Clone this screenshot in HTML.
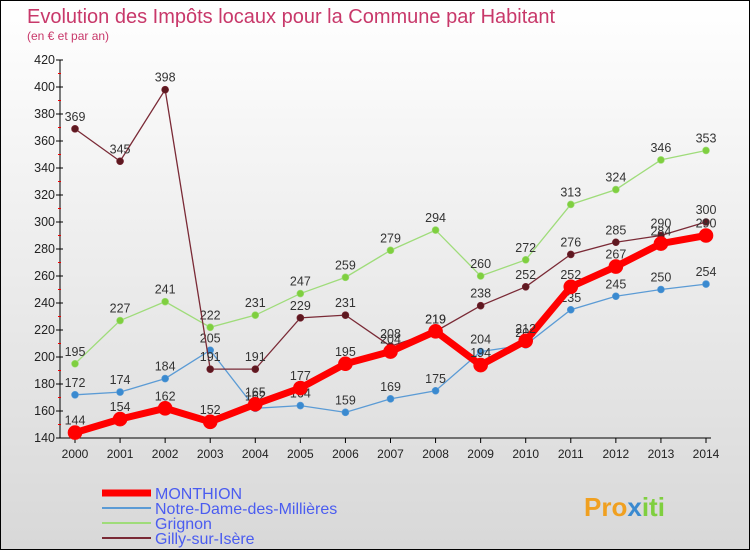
<!DOCTYPE html>
<html><head><meta charset="utf-8"><style>
body{margin:0}
#c{width:748px;height:548px;border:1px solid #000;position:relative;background:linear-gradient(#ffffff,#d8d8d8);font-family:"Liberation Sans",sans-serif;overflow:hidden}
</style></head><body>
<div id="c">
<svg id="s" width="748" height="548"></svg>
</div>
<script>
const years=[2000,2001,2002,2003,2004,2005,2006,2007,2008,2009,2010,2011,2012,2013,2014];
const yTicks=[140,160,180,200,220,240,260,280,300,320,340,360,380,400,420];
const monthion=[144,154,162,152,165,177,195,204,219,194,212,252,267,284,290];
const notreDame=[172,174,184,205,162,164,159,169,175,204,209,235,245,250,254];
const grignon=[195,227,241,222,231,247,259,279,294,260,272,313,324,346,353];
const gilly=[369,345,398,191,191,229,231,208,219,238,252,276,285,290,300];
const ns="http://www.w3.org/2000/svg";
const s=document.getElementById('s');
const X=i=>74+i*(705-74)/14;
const Y=v=>437-(v-140)*(437-59)/280;
function el(t,a,p){const e=document.createElementNS(ns,t);for(const k in a)e.setAttribute(k,a[k]);(p||s).appendChild(e);return e;}
let t=el('text',{x:26,y:22,fill:'#c8386a','font-size':20});t.textContent='Evolution des Impôts locaux pour la Commune par Habitant';

t=el('text',{x:26,y:39,fill:'#c8386a','font-size':12});t.textContent='(en € et par an)';

el('line',{x1:59,y1:59,x2:59,y2:437,stroke:'#000'});
el('line',{x1:59,y1:437,x2:710,y2:437,stroke:'#000'});
yTicks.forEach(v=>{el('line',{x1:55,x2:62,y1:Y(v),y2:Y(v),stroke:'#000'});
 if(v<420)el('line',{x1:57,x2:60,y1:Y(v+10),y2:Y(v+10),stroke:'#e00'});
 const e=el('text',{x:54,y:Y(v)+4,'text-anchor':'end','font-size':12.5,fill:'#222'});e.textContent=v;
 });
years.forEach((y,i)=>{el('line',{x1:X(i),x2:X(i),y1:437,y2:442,stroke:'#000'});
 const e=el('text',{x:X(i),y:457,'text-anchor':'middle','font-size':12,fill:'#222'});e.textContent=y;
 });
function series(d,col,dot,w,r,name){
 const g=el('g',{});
 el('polyline',{points:d.map((v,i)=>X(i)+','+Y(v)).join(' '),fill:'none',stroke:col,'stroke-width':w},g);
 d.forEach((v,i)=>{el('circle',{cx:X(i),cy:Y(v),r:r,fill:dot,stroke:col,'stroke-width':0.6},g);
  const e=el('text',{x:X(i),y:Y(v)-8,'text-anchor':'middle','font-size':12.5,fill:'#333'},g);e.textContent=v;});
}
series(notreDame,'#5b9bd5','#3a8ad0',1.3,3.5,'series-notre-dame');
series(grignon,'#9fdc7a','#7fcf3f',1.3,3.5,'series-grignon');
series(gilly,'#7a2a36','#5e1820',1.3,3.5,'series-gilly');
series(monthion,'#ff0000','#ff0000',7,7,'series-monthion');
const leg=[['MONTHION','#ff0000',7],['Notre-Dame-des-Millières','#5b9bd5',2],['Grignon','#9fdc7a',2],['Gilly-sur-Isère','#7a2a36',2]];
leg.forEach((l,i)=>{const y=492+i*15;
 const g=el('g',{});
 el('line',{x1:101,x2:150,y1:y,y2:y,stroke:l[1],'stroke-width':l[2]},g);
 const e=el('text',{x:154,y:y+6,'font-size':16,fill:'#4a5cf0'},g);e.textContent=l[0];});
const logo=el('text',{x:583,y:515,'font-size':26,'font-weight':'bold'});

[['Pro','#f0a020'],['x','#3a8ad0'],['iti','#7fcf3f']].forEach(p=>{const ts=el('tspan',{fill:p[1]},logo);ts.textContent=p[0];});
</script>
</body></html>
